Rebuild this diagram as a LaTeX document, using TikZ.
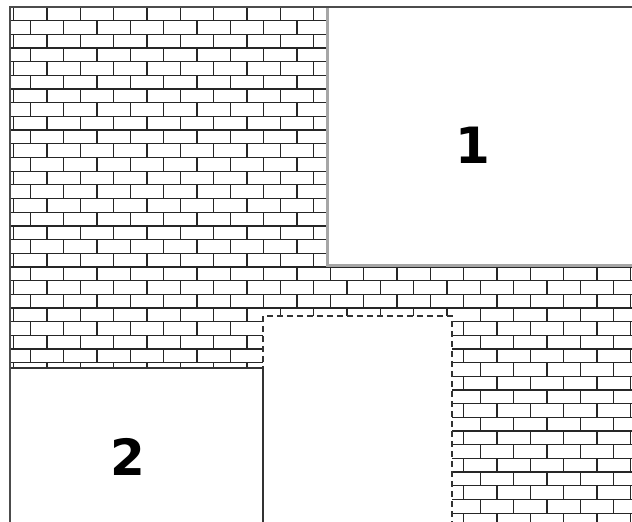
\documentclass[tikz,border=0pt]{standalone}
\usepackage{fontspec}
\newfontfamily\labelfont{DejaVu Sans}
\begin{document}
\begin{tikzpicture}[x=1pt,y=-1pt,
  brick/.style={line width=1.3pt, black!85},
  frameline/.style={line width=2.2pt, black!70},
  boxline/.style={line width=1.4pt, black!80},
  shadowline/.style={line width=3pt, black!35},
  dashline/.style={line width=1.3pt, black!80, dash pattern=on 6pt off 4pt},
  numlabel/.style={font=\labelfont\bfseries\fontsize{50}{50}\selectfont, inner sep=0pt}]
\useasboundingbox (0,0) rectangle (632,522);
% brick wall
\begin{scope}
\clip (10,7) rectangle (632,522);
\foreach \k in {0,...,37} {
  \pgfmathsetmacro\yy{7+13.68*\k}
  \draw[brick] (10,\yy) -- (632,\yy);
  \pgfmathsetmacro\off{mod(\k,2)*16.67+13.67}
  \foreach \j in {0,...,18} \draw[brick] ({\off+33.33*\j},\yy) -- ++(0,13.68);
}
\end{scope}
% box 1
\fill[white] (327,7) rectangle (632,264);
\draw[shadowline] (327,7) -- (327,265) -- (632,265);
% dashed box
\fill[white] (263,316) rectangle (452,522);
\draw[dashline] (263,522) -- (263,316) -- (452,316) -- (452,522);
% box 2
\fill[white] (10,368) rectangle (263,522);
\draw[boxline] (10,368) -- (263,368) -- (263,522);
% frame
\draw[frameline] (10,522) -- (10,7) -- (632,7);
% labels
\node[numlabel] (lbl1) at (473,145) {1};
\node[numlabel] (lbl2) at (128,457) {2};
\end{tikzpicture}
\end{document}
